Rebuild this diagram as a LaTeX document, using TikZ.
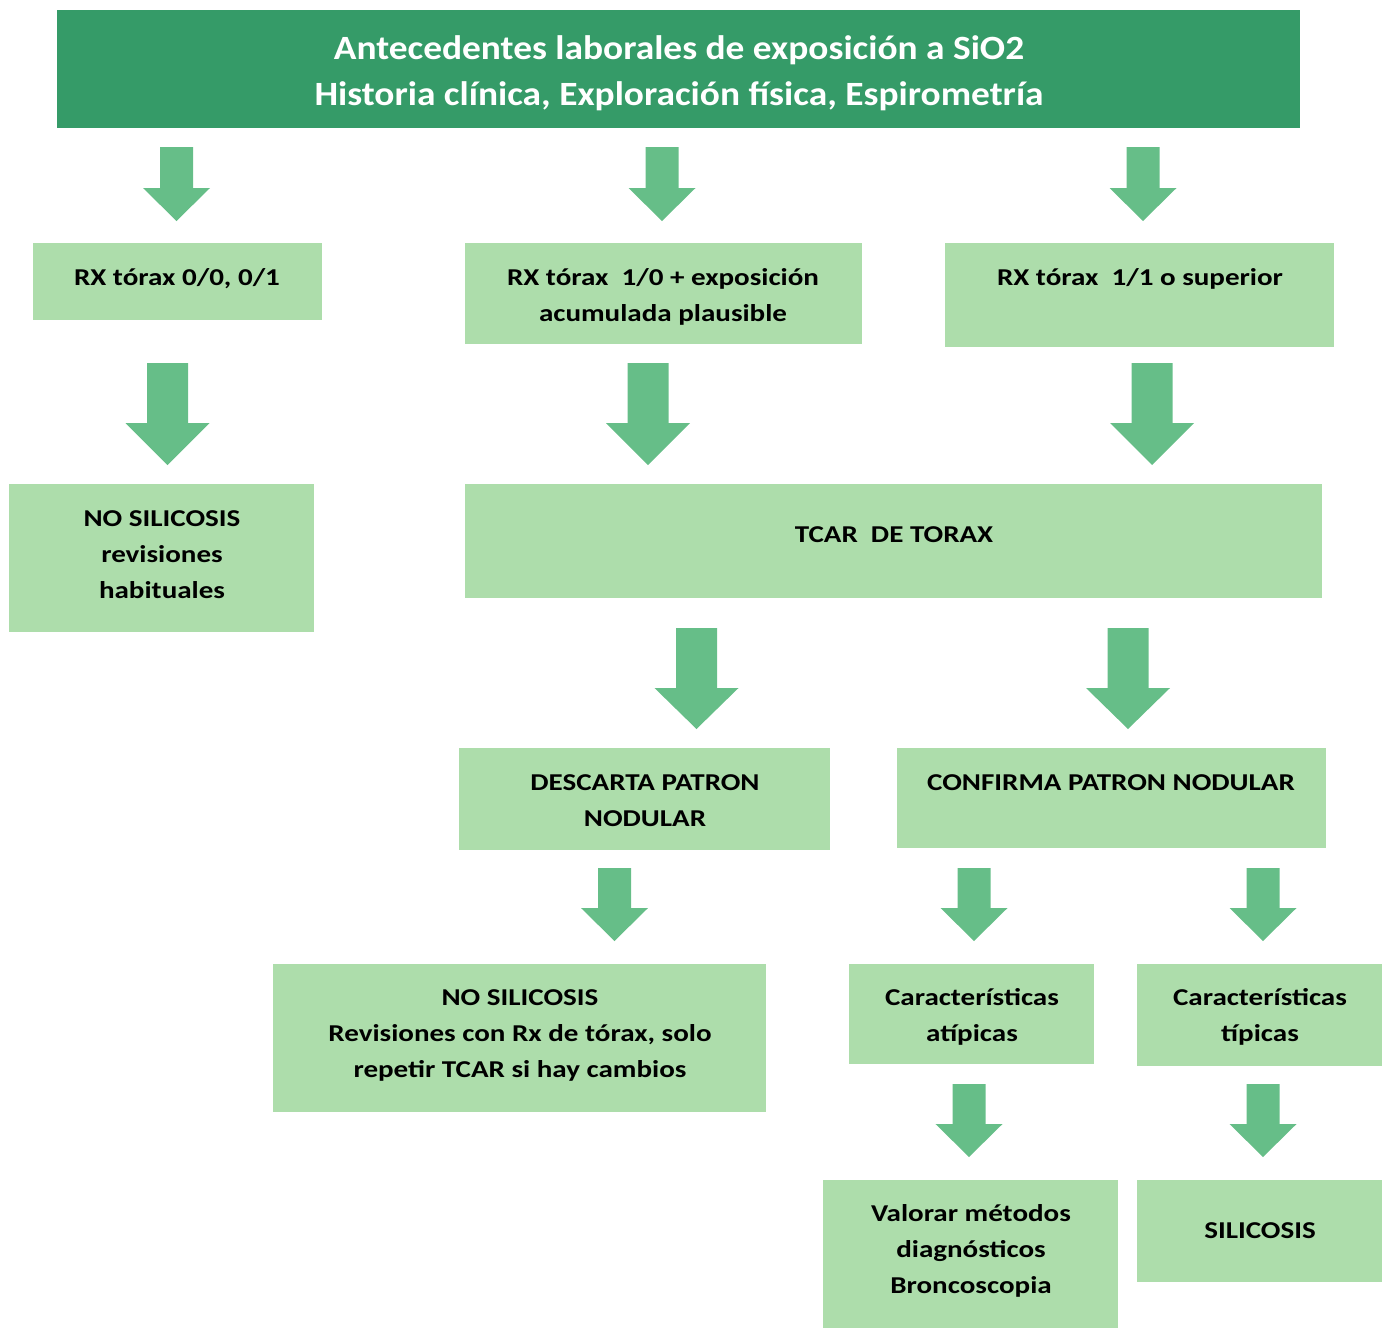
\documentclass[tikz,border=0pt]{standalone}
\usepackage{fontspec}
\setmainfont{Carlito}[FakeStretch=1.2]
\newfontfamily\headfont{Carlito}[FakeStretch=1.1]
\usetikzlibrary{fit}
\definecolor{headgreen}{HTML}{359B68}
\definecolor{boxgreen}{HTML}{ADDDAB}
\definecolor{arrowgreen}{HTML}{66BE88}
\tikzset{
    flow-box/.style = {fill=boxgreen, draw=none, rectangle, inner sep=0pt},
    head-box/.style = {fill=headgreen, draw=none, rectangle, inner sep=0pt},
    flow-text/.style = {align=center, inner sep=0pt, font=\bfseries\fontsize{12.1}{18}\selectfont},
    head-text/.style = {align=center, inner sep=0pt, text=white, font=\headfont\bfseries\fontsize{17}{23}\selectfont},
    down-arrow/.style = {fill=arrowgreen, draw=none},
}
\begin{document}
\begin{tikzpicture}[x=0.5pt,y=-0.5pt]
\useasboundingbox (0,0) rectangle (1392,1329);
% boxes
\node[head-box, fit={(57,10) (1300,128)}] (head) {};
\node[flow-box, fit={(33,243) (322,320)}] (rxa) {};
\node[flow-box, fit={(465,243) (862,344)}] (rxb) {};
\node[flow-box, fit={(945,243) (1334,347)}] (rxc) {};
\node[flow-box, fit={(9,484) (314,632)}] (nosil) {};
\node[flow-box, fit={(465,484) (1322,598)}] (tcar) {};
\node[flow-box, fit={(459,748) (830,850)}] (descarta) {};
\node[flow-box, fit={(897,748) (1326,848)}] (confirma) {};
\node[flow-box, fit={(273,964) (766,1112)}] (revis) {};
\node[flow-box, fit={(849,964) (1094,1064)}] (atip) {};
\node[flow-box, fit={(1137,964) (1382,1066)}] (tip) {};
\node[flow-box, fit={(823,1180) (1118,1328)}] (valorar) {};
\node[flow-box, fit={(1137,1180) (1382,1282)}] (silic) {};
% texts
\node[head-text] (head-t) at (679,73) {Antecedentes laborales de exposición a SiO2\\Historia clínica, Exploración física, Espirometría};
\node[flow-text] (rxa-t) at (177,279) {RX tórax 0/0, 0/1};
\node[flow-text] (rxb-t) at (663,297) {RX tórax\ \ 1/0 + exposición\\acumulada plausible};
\node[flow-text] (rxc-t) at (1140,279) {RX tórax\ \ 1/1 o superior};
\node[flow-text] (nosil-t) at (162,555) {NO SILICOSIS\\revisiones\\habituales};
\node[flow-text] (tcar-t) at (894,535) {TCAR\ \ DE TORAX};
\node[flow-text] (descarta-t) at (645,801) {DESCARTA PATRON\\NODULAR};
\node[flow-text] (confirma-t) at (1111,783) {CONFIRMA PATRON NODULAR};
\node[flow-text] (revis-t) at (520,1035) {NO SILICOSIS\\Revisiones con Rx de tórax, solo\\repetir TCAR si hay cambios};
\node[flow-text] (atip-t) at (972,1017) {Características\\atípicas};
\node[flow-text] (tip-t) at (1260,1017) {Características\\típicas};
\node[flow-text] (valorar-t) at (971,1251) {Valorar métodos\\diagnósticos\\Broncoscopia};
\node[flow-text] (silic-t) at (1260,1231) {SILICOSIS};
% arrows: x / top / shaft half / head half / head start / tip
\foreach \x/\t/\s/\h/\b/\e in {176.5/147/16.5/33.5/188/221, 662/147/16.5/33.5/188/221, 1143/147/16.5/33.5/188/221,
    167.5/363/20.5/42/423/465, 648/363/20.5/42/423/465, 1152/363/20.5/42/423/465,
    696.5/628/20.5/42/688/729, 1128/628/20.5/42/688/729,
    614.5/868/16.5/33.5/908/941, 974/868/16.5/33.5/908/941, 1263/868/16.5/33.5/908/941,
    969/1084/16.5/33.5/1124/1157, 1263/1084/16.5/33.5/1124/1157}
    \fill[down-arrow] ({\x-\s},\t) -- ({\x+\s},\t) -- ({\x+\s},\b) -- ({\x+\h},\b) -- (\x,\e) -- ({\x-\h},\b) -- ({\x-\s},\b) -- cycle;
\end{tikzpicture}
\end{document}
